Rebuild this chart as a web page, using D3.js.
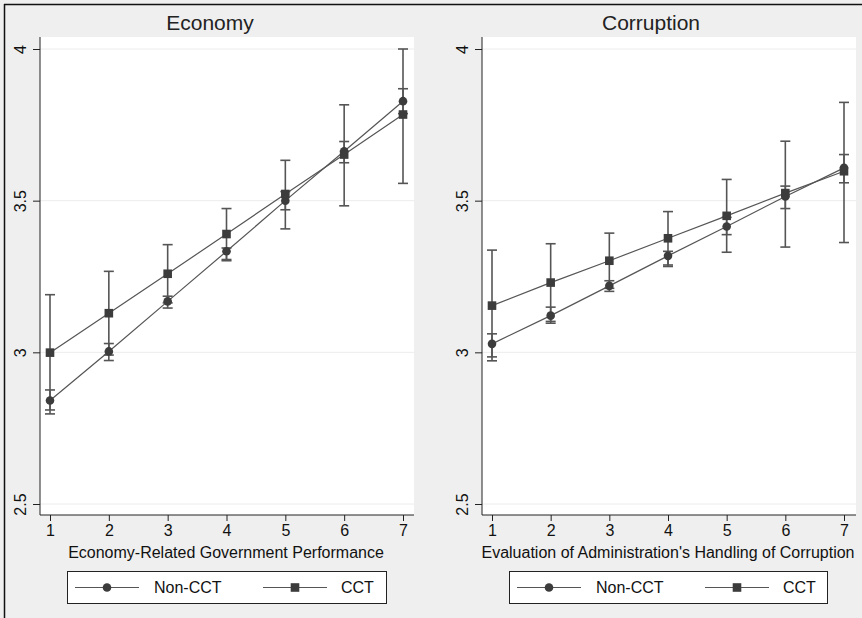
<!DOCTYPE html>
<html>
<head>
<meta charset="utf-8">
<script src="https://cdn.jsdelivr.net/npm/d3@7"></script>
<style>
  body { margin: 0; background: #efefef; }
  svg { display: block; }
  svg text { font-family: "Liberation Sans", Arial, sans-serif; }
</style>
</head>
<body>
<svg id="chart" width="862" height="618"></svg>
<script>
// x categories (1..7 rating), y ticks
const categories = [1, 2, 3, 4, 5, 6, 7];
const yTicks = [2.5, 3, 3.5, 4];
const panelTitles = ['Economy', 'Corruption'];
const xTitles = ['Economy-Related Government Performance', "Evaluation of Administration's Handling of Corruption"];
const seriesNames = ['Non-CCT', 'CCT'];

// Economy panel
const econNonMean = [2.841, 3.003, 3.168, 3.333, 3.500, 3.663, 3.828];
const econNonLo   = [2.797, 2.973, 3.146, 3.302, 3.470, 3.625, 3.787];
const econNonHi   = [2.876, 3.029, 3.185, 3.344, 3.530, 3.695, 3.869];
const econCctMean = [2.999, 3.129, 3.259, 3.390, 3.522, 3.652, 3.784];
const econCctLo   = [2.810, 2.991, 3.163, 3.306, 3.407, 3.483, 3.557];
const econCctHi   = [3.190, 3.267, 3.355, 3.474, 3.633, 3.816, 4.000];

// Corruption panel
const corrNonMean = [3.028, 3.121, 3.219, 3.318, 3.415, 3.514, 3.608];
const corrNonLo   = [2.985, 3.096, 3.201, 3.283, 3.388, 3.474, 3.559];
const corrNonHi   = [3.061, 3.149, 3.236, 3.333, 3.445, 3.548, 3.652];
const corrCctMean = [3.154, 3.230, 3.302, 3.376, 3.450, 3.525, 3.597];
const corrCctLo   = [2.972, 3.102, 3.211, 3.288, 3.330, 3.347, 3.362];
const corrCctHi   = [3.337, 3.358, 3.393, 3.464, 3.570, 3.696, 3.824];

const panels = [
    {
        left: 40, right: 414, x1: 50, x7: 403, titleX: 210,
        series: [
            { mean: econNonMean, lo: econNonLo, hi: econNonHi, shape: 'circle' },
            { mean: econCctMean, lo: econCctLo, hi: econCctHi, shape: 'square' },
        ],
        legend: { x: 67, w: 319 },
    },
    {
        left: 482, right: 856, x1: 492, x7: 844, titleX: 651,
        series: [
            { mean: corrNonMean, lo: corrNonLo, hi: corrNonHi, shape: 'circle' },
            { mean: corrCctMean, lo: corrCctLo, hi: corrCctHi, shape: 'square' },
        ],
        legend: { x: 509, w: 318 },
    },
];

const dims = { top: 37, bottom: 515 };
const ink = '#3c3c3c';
const lineCol = '#555';
const font = '"Liberation Sans", Arial, sans-serif';

const svg = d3.select('#chart');

// outer frame (top + left visible)
svg.append('line').attr('x1', 4).attr('x2', 862).attr('y1', 4.5).attr('y2', 4.5)
    .attr('stroke', '#111').attr('stroke-width', 1.5);
svg.append('line').attr('x1', 4.5).attr('x2', 4.5).attr('y1', 4).attr('y2', 618)
    .attr('stroke', '#111').attr('stroke-width', 1.5);

const yScale = d3.scaleLinear().domain([2.5, 4]).range([504, 49]);

function drawMarker(g, shape, x, y) {
    if (shape === 'circle') {
        g.append('circle').attr('cx', x).attr('cy', y).attr('r', 4.3).attr('fill', ink);
    } else {
        g.append('rect').attr('x', x - 4.3).attr('y', y - 4.3)
            .attr('width', 8.6).attr('height', 8.6).attr('fill', ink);
    }
}

panels.forEach((p, pi) => {
    const g = svg.append('g');
    const xScale = d3.scaleLinear().domain([1, 7]).range([p.x1, p.x7]);

    // plot area
    g.append('rect')
        .attr('x', p.left).attr('y', dims.top)
        .attr('width', p.right - p.left).attr('height', dims.bottom - dims.top)
        .attr('fill', 'white');

    // grid
    g.selectAll('.grid').data(yTicks).join('line')
        .attr('x1', p.left).attr('x2', p.right)
        .attr('y1', d => yScale(d)).attr('y2', d => yScale(d))
        .attr('stroke', '#ececec').attr('stroke-width', 1);

    // title
    g.append('text')
        .attr('x', p.titleX).attr('y', 30)
        .attr('text-anchor', 'middle').attr('font-size', 21).attr('fill', '#222')
        .text(panelTitles[pi]);

    // y axis
    const yAxis = d3.axisLeft(yScale).tickValues(yTicks).tickSize(7).tickPadding(4)
        .tickFormat(d3.format('~g'));
    const gy = g.append('g').attr('transform', `translate(${p.left},0)`).call(yAxis)
        .attr('font-family', font);
    gy.select('.domain').attr('d', `M0,${dims.top}V${dims.bottom}`).attr('stroke', '#222');
    gy.selectAll('.tick line').attr('stroke', '#222');
    gy.selectAll('.tick text')
        .attr('font-size', 16).attr('fill', '#111')
        .attr('text-anchor', 'middle').attr('x', 0).attr('dy', 0)
        .attr('transform', 'translate(-20,0) rotate(-90)')
        .attr('y', 0).attr('dominant-baseline', 'central');

    // x axis
    const xAxis = d3.axisBottom(xScale).tickValues(categories).tickSize(6).tickPadding(4)
        .tickFormat(d3.format('d'));
    const gx = g.append('g').attr('transform', `translate(0,${dims.bottom})`).call(xAxis)
        .attr('font-family', font);
    gx.select('.domain').attr('d', `M${p.left},0H${p.right}`).attr('stroke', '#222');
    gx.selectAll('.tick line').attr('stroke', '#222');
    gx.selectAll('.tick text').attr('font-size', 16).attr('fill', '#111');

    g.append('text')
        .attr('x', pi === 0 ? (p.left + p.right) / 2 - 1 : (p.left + p.right) / 2 - 1)
        .attr('y', 558)
        .attr('text-anchor', 'middle').attr('font-size', 16).attr('fill', '#111')
        .text(xTitles[pi]);

    // series: error bars, lines, markers
    p.series.forEach(s => {
        const gs = g.append('g');
        categories.forEach((c, i) => {
            const x = xScale(c);
            const yl = yScale(s.lo[i]);
            const yh = yScale(s.hi[i]);
            gs.append('line').attr('x1', x).attr('x2', x).attr('y1', yl).attr('y2', yh)
                .attr('stroke', lineCol).attr('stroke-width', 1.6);
            [yl, yh].forEach(yy => {
                gs.append('line').attr('x1', x - 5).attr('x2', x + 5).attr('y1', yy).attr('y2', yy)
                    .attr('stroke', lineCol).attr('stroke-width', 1.6);
            });
        });
    });
    p.series.forEach(s => {
        const line = d3.line().x((d, i) => xScale(categories[i])).y(d => yScale(d));
        g.append('path').datum(s.mean).attr('d', line)
            .attr('fill', 'none').attr('stroke', lineCol).attr('stroke-width', 1.2);
    });
    p.series.forEach(s => {
        s.mean.forEach((m, i) => drawMarker(g, s.shape, xScale(categories[i]), yScale(m)));
    });

    // legend
    const lg = g.append('g').attr('transform', `translate(${p.legend.x},571)`);
    lg.append('rect').attr('x', 0.5).attr('y', 0.5).attr('width', p.legend.w).attr('height', 32)
        .attr('fill', 'white').attr('stroke', '#222').attr('stroke-width', 1);
    const itemX = [8, 196];
    seriesNames.forEach((name, k) => {
        const x0 = itemX[k];
        lg.append('line').attr('x1', x0).attr('x2', x0 + 64).attr('y1', 16.5).attr('y2', 16.5)
            .attr('stroke', lineCol).attr('stroke-width', 1.2);
        drawMarker(lg, k === 0 ? 'circle' : 'square', x0 + 32, 16.5);
        lg.append('text').attr('x', k === 0 ? x0 + 79 : x0 + 78).attr('y', 22)
            .attr('font-size', 16).attr('fill', '#111').text(name);
    });
});
</script>
</body>
</html>
